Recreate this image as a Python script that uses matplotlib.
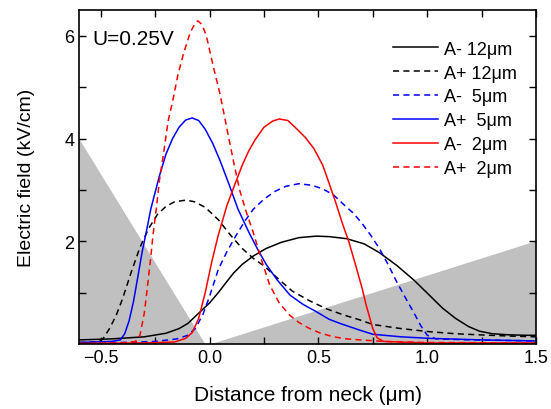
import numpy as np
import matplotlib
matplotlib.use("Agg")
import matplotlib.pyplot as plt
from matplotlib.ticker import MultipleLocator, FixedLocator

plt.rcParams["font.family"] = ["Liberation Sans", "DejaVu Sans"]

# ---- data ----
# A- 12um (black solid)
x_am12 = [-0.60, -0.45, -0.30, -0.20, -0.14, -0.10, -0.05, 0.00, 0.04, 0.08, 0.11, 0.15, 0.20,
          0.26, 0.33, 0.41, 0.49, 0.55, 0.63, 0.71, 0.78, 0.86, 0.94, 1.01, 1.07, 1.13, 1.19,
          1.24, 1.30, 1.37, 1.45, 1.50]
y_am12 = [0.08, 0.10, 0.14, 0.21, 0.30, 0.40, 0.60, 0.80, 1.00, 1.22, 1.38, 1.55, 1.71,
          1.86, 1.98, 2.07, 2.10, 2.09, 2.05, 1.95, 1.78, 1.53, 1.24, 0.95, 0.70, 0.50, 0.34,
          0.25, 0.20, 0.18, 0.17, 0.17]
# A+ 12um (black dashed)
x_ap12 = [-0.60, -0.52, -0.49, -0.46, -0.43, -0.40, -0.36, -0.32, -0.28, -0.24, -0.20, -0.16,
          -0.11, -0.07, -0.02, 0.04, 0.10, 0.15, 0.20, 0.25, 0.31, 0.38, 0.46, 0.54, 0.62,
          0.69, 0.75, 0.88, 1.01, 1.13, 1.26, 1.38, 1.50]
y_ap12 = [0.03, 0.04, 0.10, 0.30, 0.55, 0.88, 1.40, 1.88, 2.25, 2.52, 2.68, 2.77,
          2.80, 2.77, 2.66, 2.42, 2.10, 1.86, 1.67, 1.52, 1.29, 1.03, 0.84, 0.68, 0.56,
          0.47, 0.38, 0.30, 0.24, 0.20, 0.175, 0.155, 0.14]
# A- 5um (blue dashed)
x_am5 = [-0.60, -0.40, -0.25, -0.15, -0.10, -0.066, -0.03, 0.00, 0.04, 0.08, 0.12, 0.16, 0.20,
         0.25, 0.30, 0.35, 0.41, 0.47, 0.52, 0.57, 0.62, 0.66, 0.70, 0.74, 0.78, 0.82, 0.86,
         0.90, 0.94, 0.97, 1.00, 1.04, 1.20, 1.35, 1.50]
y_am5 = [0.02, 0.03, 0.05, 0.10, 0.17, 0.30, 0.58, 0.93, 1.45, 1.80, 2.10, 2.38, 2.62,
         2.82, 2.97, 3.07, 3.12, 3.09, 3.02, 2.90, 2.70, 2.55, 2.35, 2.12, 1.86, 1.55, 1.21,
         0.90, 0.60, 0.36, 0.17, 0.10, 0.08, 0.07, 0.06]
# A+ 5um (blue solid)
x_ap5 = [-0.60, -0.45, -0.41, -0.39, -0.37, -0.35, -0.33, -0.31, -0.29, -0.27, -0.23, -0.20,
         -0.17, -0.14, -0.11, -0.08, -0.05, -0.02, 0.015, 0.05, 0.09, 0.13, 0.18, 0.22, 0.26,
         0.31, 0.37, 0.43, 0.49, 0.55, 0.60, 0.69, 0.75, 0.88, 1.01, 1.25, 1.50]
y_ap5 = [0.03, 0.05, 0.08, 0.20, 0.45, 0.82, 1.30, 1.79, 2.20, 2.63, 3.28, 3.70,
         4.00, 4.22, 4.36, 4.40, 4.35, 4.18, 3.90, 3.55, 3.10, 2.63, 2.18, 1.85, 1.55,
         1.25, 0.95, 0.77, 0.63, 0.48, 0.40, 0.27, 0.19, 0.14, 0.11, 0.08, 0.06]
# A- 2um (red solid)
x_am2 = [-0.60, -0.30, -0.16, -0.11, -0.08, -0.05, -0.02, 0.01, 0.04, 0.08, 0.12, 0.15, 0.18,
         0.21, 0.25, 0.29, 0.32, 0.36, 0.40, 0.44, 0.48, 0.52, 0.55, 0.58, 0.61, 0.64, 0.67,
         0.70, 0.72, 0.75, 0.77, 0.80, 1.00, 1.50]
y_am2 = [0.01, 0.02, 0.04, 0.11, 0.22, 0.50, 1.00, 1.60, 2.12, 2.70, 3.15, 3.48, 3.76,
         3.98, 4.22, 4.34, 4.38, 4.35, 4.19, 4.02, 3.80, 3.48, 3.12, 2.75, 2.35, 1.99, 1.55,
         1.10, 0.75, 0.30, 0.12, 0.05, 0.02, 0.02]
# A+ 2um (red dashed)
x_ap2 = [-0.60, -0.40, -0.34, -0.32, -0.30, -0.29, -0.27, -0.26, -0.245, -0.23, -0.215, -0.19,
         -0.17, -0.145, -0.12, -0.09, -0.07, -0.054, -0.035, -0.015, 0.00, 0.02, 0.046, 0.07,
         0.092, 0.115, 0.138, 0.17, 0.20, 0.24, 0.276, 0.32, 0.368, 0.41, 0.46, 0.51, 0.57,
         0.63, 0.69, 0.80, 1.00, 1.50]
y_ap2 = [0.01, 0.02, 0.05, 0.17, 0.60, 0.95, 1.70, 2.12, 2.63, 3.20, 3.61, 4.35,
         4.72, 5.25, 5.65, 6.05, 6.22, 6.29, 6.22, 6.00, 5.72, 5.35, 4.90, 4.40,
         3.93, 3.45, 3.00, 2.55, 2.18, 1.62, 1.15, 0.80, 0.56, 0.42, 0.30, 0.21, 0.14,
         0.10, 0.08, 0.05, 0.03, 0.02]

# gray regions (gate shapes)
left_x = [-0.60, -0.60, -0.02]
left_y = [0.0, 4.0, 0.0]
right_x = [0.01, 1.50, 1.50]
right_y = [0.0, 2.0, 0.0]

fig = plt.figure(figsize=(5.51, 4.10), dpi=100)
ax = fig.add_axes([0.1434, 0.1585, 0.8294, 0.8145])

ax.fill(left_x, left_y, color="#c0c0c0", lw=0, zorder=0)
ax.fill(right_x, right_y, color="#c0c0c0", lw=0, zorder=0)

lw = 1.1
ds = (4, 2.8)
ax.plot(x_am12, y_am12, color="black", lw=lw, label="A- 12\u03bcm")
ax.plot(x_ap12, y_ap12, color="black", lw=lw, dashes=ds, label="A+ 12\u03bcm")
ax.plot(x_am5, y_am5, color="blue", lw=lw, dashes=ds, label="A-  5\u03bcm")
ax.plot(x_ap5, y_ap5, color="blue", lw=lw, label="A+  5\u03bcm")
ax.plot(x_am2, y_am2, color="red", lw=lw, label="A-  2\u03bcm")
ax.plot(x_ap2, y_ap2, color="red", lw=lw, dashes=ds, label="A+  2\u03bcm")

ax.set_xlim(-0.6, 1.5)
ax.set_ylim(0, 6.5)
ax.xaxis.set_major_locator(MultipleLocator(0.5))
ax.xaxis.set_minor_locator(MultipleLocator(0.25))
ax.yaxis.set_major_locator(FixedLocator([2, 4, 6]))
ax.yaxis.set_minor_locator(FixedLocator([1, 3, 5]))
ax.tick_params(which="both", direction="in", top=True, right=True, width=1.0, labelsize=13)
ax.tick_params(which="both", length=5)
for s in ax.spines.values():
    s.set_linewidth(1.2)

ax.set_xlabel("Distance from neck (\u03bcm)", fontsize=15, labelpad=14)
ax.set_ylabel("Electric field (kV/cm)", fontsize=14, labelpad=21)
ax.text(0.03, 0.916, "U=0.25V", transform=ax.transAxes, fontsize=15, va="center")

ax.legend(loc="upper right", bbox_to_anchor=(0.975, 0.93), frameon=False, fontsize=13,
          handlelength=2.5, labelspacing=0.38, handletextpad=0.35, borderaxespad=0.0)

fig.savefig("out.png", dpi=100)
